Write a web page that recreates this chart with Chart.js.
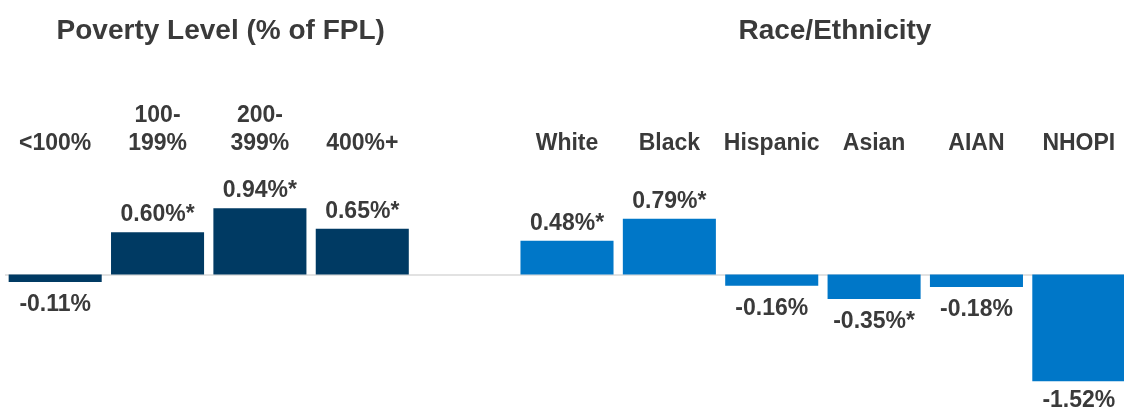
<!DOCTYPE html>
<html>
<head>
<meta charset="utf-8">
<script src="https://cdn.jsdelivr.net/npm/chart.js@4/dist/chart.umd.min.js"></script>
<style>
  html, body { margin: 0; padding: 0; background: #fff; overflow: hidden; }
  #wrap { position: relative; width: 1130px; height: 412px; }
</style>
</head>
<body>
<div id="wrap"><canvas id="chart"></canvas></div>
<script>
const povertyLabels = ['<100%', ['100-', '199%'], ['200-', '399%'], '400%+']
const povertyValues = [-0.11, 0.60, 0.94, 0.65]
const povertySig = [false, true, true, true]

const raceLabels = ['White', 'Black', 'Hispanic', 'Asian', 'AIAN', 'NHOPI']
const raceValues = [0.48, 0.79, -0.16, -0.35, -0.18, -1.52]
const raceSig = [true, true, false, true, false, false]

const groupTitles = ['Poverty Level (% of FPL)', 'Race/Ethnicity']

const navy = '#003A63'
const blue = '#0077C8'
const textColor = '#3a3a3a'
const fontFamily = '"Liberation Sans", Arial, sans-serif'

// one empty slot between the two groups
const labels = [...povertyLabels, '', ...raceLabels]
const values = [...povertyValues, null, ...raceValues]
const sig = [...povertySig, false, ...raceSig]
const colors = [...povertyValues.map(() => navy), navy, ...raceValues.map(() => blue)]

const textPlugin = {
	id: 'textPlugin',
	beforeDatasetsDraw(chart) {
		const { ctx, chartArea, scales } = chart
		const y0 = scales.y.getPixelForValue(0)
		ctx.save()
		ctx.strokeStyle = '#d9d9d9'
		ctx.lineWidth = 1.5
		ctx.beginPath()
		ctx.moveTo(chartArea.left + 1, y0 + 0.5)
		ctx.lineTo(chartArea.right, y0 + 0.5)
		ctx.stroke()
		ctx.restore()
	},
	afterDraw(chart) {
		const { ctx, scales } = chart
		const x = scales.x
		ctx.save()
		ctx.fillStyle = textColor
		ctx.textAlign = 'center'
		ctx.textBaseline = 'alphabetic'

		// group titles
		ctx.font = `bold 28px ${fontFamily}`
		const povCenter = (x.getPixelForValue(0) + x.getPixelForValue(povertyLabels.length - 1)) / 2
		const raceStart = povertyLabels.length + 1
		const raceCenter = (x.getPixelForValue(raceStart) + x.getPixelForValue(labels.length - 1)) / 2
		ctx.fillText(groupTitles[0], povCenter + 12, 38.5)
		ctx.fillText(groupTitles[1], raceCenter + 12, 38.5)

		// category labels, bottom-aligned
		ctx.font = `bold 23px ${fontFamily}`
		labels.forEach((lab, i) => {
			if (!lab) return
			const lines = Array.isArray(lab) ? lab : [lab]
			const cx = x.getPixelForValue(i)
			lines.forEach((line, j) => {
				ctx.fillText(line, cx, 149.5 - (lines.length - 1 - j) * 27.5)
			})
		})

		// value labels
		const meta = chart.getDatasetMeta(0)
		meta.data.forEach((bar, i) => {
			const v = values[i]
			if (v === null) return
			const txt = v.toFixed(2) + '%' + (sig[i] ? '*' : '')
			if (v >= 0) {
				ctx.fillText(txt, bar.x, bar.y - 11)
			} else {
				ctx.fillText(txt, bar.x, Math.min(bar.y + 29, 407))
			}
		})
		ctx.restore()
	},
}

new Chart(document.getElementById('chart'), {
	type: 'bar',
	data: {
		labels: labels,
		datasets: [
			{
				data: values,
				backgroundColor: colors,
				borderWidth: 0,
				barPercentage: 0.909,
				categoryPercentage: 1,
			},
		],
	},
	options: {
		responsive: true,
		maintainAspectRatio: false,
		animation: false,
		layout: { padding: { left: 4, right: 0, top: 190, bottom: 4 } },
		scales: {
			x: { display: false },
			y: { display: false, min: -1.9, max: 1.2 },
		},
		plugins: {
			legend: { display: false },
			tooltip: { enabled: false },
		},
	},
	plugins: [textPlugin],
})
</script>
</body>
</html>
